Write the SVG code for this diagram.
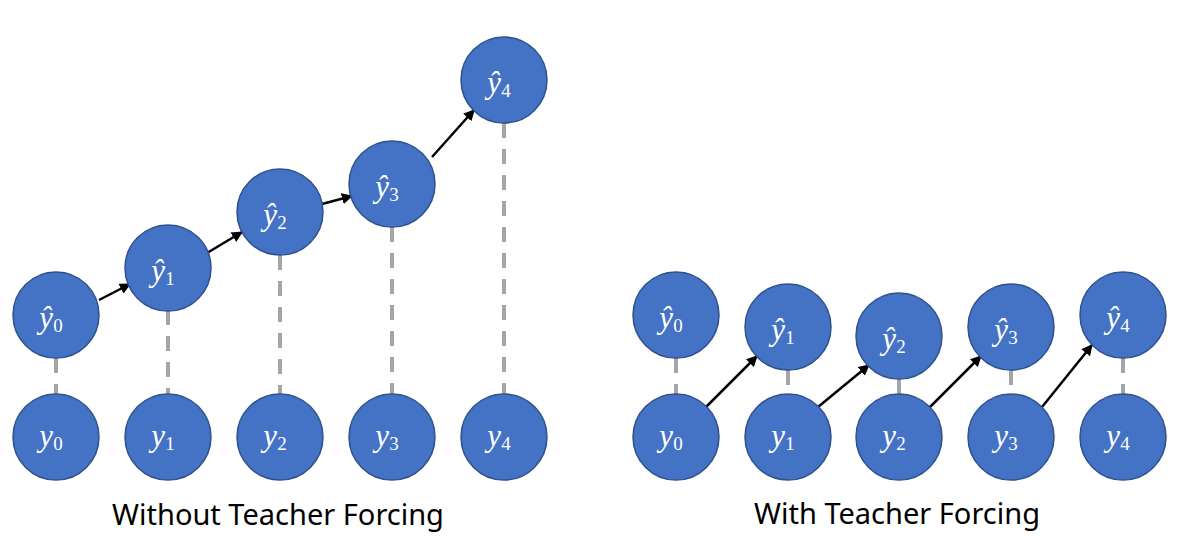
<svg xmlns="http://www.w3.org/2000/svg" width="1186" height="536" viewBox="0 0 1186 536">
<style>
.n{fill:#4472C4;stroke:#2F528F;stroke-width:1.5}
.t{font-family:"Liberation Serif",serif;font-size:31px;fill:#fff;text-anchor:middle}
.v{font-style:italic}
.s{font-size:19px}
.d{stroke:#A5A5A5;stroke-width:4;stroke-dasharray:15 11;fill:none}
.a{stroke:#000;stroke-width:2.5;fill:none;marker-end:url(#ah)}
.c{font-family:"Noto Sans","Open Sans",sans-serif;font-size:29px;fill:#000;text-anchor:middle}
</style>
<defs>
<marker id="ah" viewBox="0 0 10 10" refX="9" refY="5" markerWidth="4.5" markerHeight="4.5" orient="auto" markerUnits="strokeWidth">
<path d="M0,0 L10,5 L0,10 z" fill="#000"/>
</marker>
</defs>
<g id="connectors">
<line class="d" x1="56" y1="358" x2="56" y2="394"/>
<line class="d" x1="168" y1="310" x2="168" y2="394"/>
<line class="d" x1="280" y1="255" x2="280" y2="394"/>
<line class="d" x1="392" y1="227" x2="392" y2="394"/>
<line class="d" x1="504" y1="123" x2="504" y2="394"/>
<line class="a" x1="99" y1="300" x2="130" y2="284"/>
<line class="a" x1="207" y1="253" x2="242" y2="232"/>
<line class="a" x1="322" y1="204" x2="352" y2="196"/>
<line class="a" x1="432" y1="157" x2="474" y2="110"/>
<line class="d" x1="676" y1="358" x2="676" y2="394"/>
<line class="d" x1="788" y1="370" x2="788" y2="394"/>
<line class="d" x1="899" y1="379" x2="899" y2="394"/>
<line class="d" x1="1011" y1="370" x2="1011" y2="394"/>
<line class="d" x1="1123" y1="358" x2="1123" y2="394"/>
<line class="a" x1="706" y1="407" x2="757" y2="356"/>
<line class="a" x1="818" y1="407" x2="869" y2="365"/>
<line class="a" x1="930" y1="407" x2="981" y2="356"/>
<line class="a" x1="1042" y1="407" x2="1092" y2="345"/>
</g>
<g id="L_yh0"><circle class="n" cx="56" cy="315" r="43"/><text class="t" x="51" y="328"><tspan class="v">ŷ</tspan><tspan class="s" dy="4">0</tspan></text></g>
<g id="L_yh1"><circle class="n" cx="168" cy="268" r="43"/><text class="t" x="163" y="281"><tspan class="v">ŷ</tspan><tspan class="s" dy="4">1</tspan></text></g>
<g id="L_yh2"><circle class="n" cx="280" cy="212" r="43"/><text class="t" x="275" y="225"><tspan class="v">ŷ</tspan><tspan class="s" dy="4">2</tspan></text></g>
<g id="L_yh3"><circle class="n" cx="392" cy="184" r="43"/><text class="t" x="387" y="197"><tspan class="v">ŷ</tspan><tspan class="s" dy="4">3</tspan></text></g>
<g id="L_yh4"><circle class="n" cx="504" cy="80" r="43"/><text class="t" x="499" y="93"><tspan class="v">ŷ</tspan><tspan class="s" dy="4">4</tspan></text></g>
<g id="L_y0"><circle class="n" cx="56" cy="437" r="43"/><text class="t" x="51" y="446"><tspan class="v">y</tspan><tspan class="s" dy="4">0</tspan></text></g>
<g id="L_y1"><circle class="n" cx="168" cy="437" r="43"/><text class="t" x="163" y="446"><tspan class="v">y</tspan><tspan class="s" dy="4">1</tspan></text></g>
<g id="L_y2"><circle class="n" cx="280" cy="437" r="43"/><text class="t" x="275" y="446"><tspan class="v">y</tspan><tspan class="s" dy="4">2</tspan></text></g>
<g id="L_y3"><circle class="n" cx="392" cy="437" r="43"/><text class="t" x="387" y="446"><tspan class="v">y</tspan><tspan class="s" dy="4">3</tspan></text></g>
<g id="L_y4"><circle class="n" cx="504" cy="437" r="43"/><text class="t" x="499" y="446"><tspan class="v">y</tspan><tspan class="s" dy="4">4</tspan></text></g>
<g id="R_yh0"><circle class="n" cx="676" cy="315" r="43"/><text class="t" x="671" y="328"><tspan class="v">ŷ</tspan><tspan class="s" dy="4">0</tspan></text></g>
<g id="R_yh1"><circle class="n" cx="788" cy="327" r="43"/><text class="t" x="783" y="340"><tspan class="v">ŷ</tspan><tspan class="s" dy="4">1</tspan></text></g>
<g id="R_yh2"><circle class="n" cx="899" cy="336" r="43"/><text class="t" x="894" y="349"><tspan class="v">ŷ</tspan><tspan class="s" dy="4">2</tspan></text></g>
<g id="R_yh3"><circle class="n" cx="1011" cy="327" r="43"/><text class="t" x="1006" y="340"><tspan class="v">ŷ</tspan><tspan class="s" dy="4">3</tspan></text></g>
<g id="R_yh4"><circle class="n" cx="1123" cy="315" r="43"/><text class="t" x="1118" y="328"><tspan class="v">ŷ</tspan><tspan class="s" dy="4">4</tspan></text></g>
<g id="R_y0"><circle class="n" cx="676" cy="437" r="43"/><text class="t" x="671" y="446"><tspan class="v">y</tspan><tspan class="s" dy="4">0</tspan></text></g>
<g id="R_y1"><circle class="n" cx="788" cy="437" r="43"/><text class="t" x="783" y="446"><tspan class="v">y</tspan><tspan class="s" dy="4">1</tspan></text></g>
<g id="R_y2"><circle class="n" cx="899" cy="437" r="43"/><text class="t" x="894" y="446"><tspan class="v">y</tspan><tspan class="s" dy="4">2</tspan></text></g>
<g id="R_y3"><circle class="n" cx="1011" cy="437" r="43"/><text class="t" x="1006" y="446"><tspan class="v">y</tspan><tspan class="s" dy="4">3</tspan></text></g>
<g id="R_y4"><circle class="n" cx="1123" cy="437" r="43"/><text class="t" x="1118" y="446"><tspan class="v">y</tspan><tspan class="s" dy="4">4</tspan></text></g>
<text class="c" x="278" y="525">Without Teacher Forcing</text>
<text class="c" x="897" y="524">With Teacher Forcing</text>
</svg>
